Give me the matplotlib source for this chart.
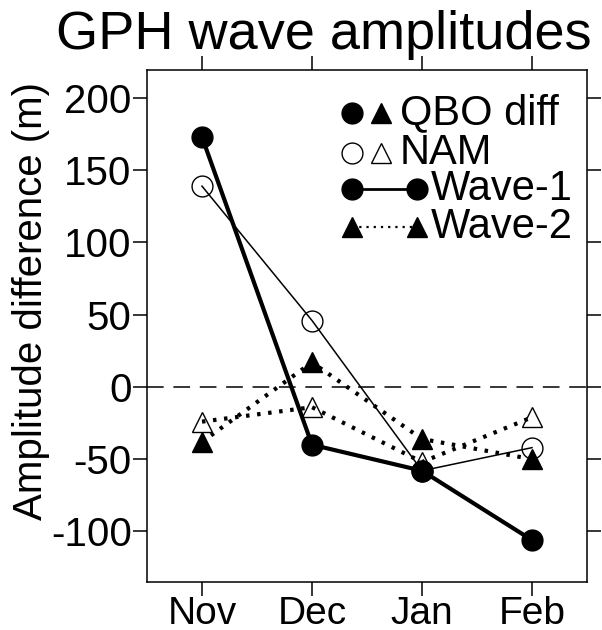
import matplotlib
matplotlib.use("Agg")
import matplotlib.pyplot as plt

plt.rcParams['font.family'] = ['Liberation Sans', 'DejaVu Sans']
plt.rcParams['lines.scale_dashes'] = False

months = ["Nov", "Dec", "Jan", "Feb"]
x = [1, 2, 3, 4]
qbo_wave1 = [173, -40, -58, -106]
nam_wave1 = [139, 46, -58, -42]
qbo_wave2 = [-38, 17, -36, -50]
nam_wave2 = [-24, -14, -52, -21]
yticks = [-100, -50, 0, 50, 100, 150, 200]

fig = plt.figure(figsize=(6.02, 6.30), dpi=100)
ax = fig.add_axes([147/602, 1-582/630, 440/602, 512/630])

ax.axhline(0, color='black', lw=1.1, dashes=(12, 7), zorder=1)

ms = 15
ax.plot(x, nam_wave1, color='black', lw=1.1, marker='o', ms=ms, mfc='none', mec='black', mew=1.0, zorder=2)
ax.plot(x, nam_wave2, color='black', lw=3, dashes=(2.5, 5.5), dash_capstyle='butt', marker='^', ms=ms, mfc='none', mec='black', mew=1.0, zorder=2)
ax.plot(x, qbo_wave2, color='black', lw=3, dashes=(2.5, 5.5), dash_capstyle='butt', marker='^', ms=ms, mfc='black', mec='black', zorder=3)
ax.plot(x, qbo_wave1, color='black', lw=3, marker='o', ms=ms, mfc='black', mec='black', zorder=4)

ax.set_xlim(0.5, 4.5)
ax.set_ylim(-135, 219.4)
ax.set_xticks(x)
ax.set_xticklabels(months)
ax.set_yticks(yticks)
ax.set_yticklabels([str(v) for v in yticks])
ax.tick_params(axis='both', direction='out', length=10, width=1.1, labelsize=29, pad=1,
               top=True, right=True, labeltop=False, labelright=False)
ax.tick_params(axis='x', pad=0, labelsize=28)
for s in ax.spines.values():
    s.set_linewidth(1.1)

# legend drawn manually (axes coordinates)
def ax_xy(px, py):
    return ((px-147)/440, (582-py)/512)

rows_y = [113, 153, 189, 227]
fs = 30
# row 1: QBO diff
for (px, mk) in [(352, 'o'), (381, '^')]:
    xx, yy = ax_xy(px, rows_y[0])
    ax.plot([xx], [yy], marker=mk, ms=ms, color='black', transform=ax.transAxes, clip_on=False)
xx, yy = ax_xy(400, rows_y[0])
ax.text(xx, yy, "QBO diff", transform=ax.transAxes, fontsize=fs, va='center', ha='left')
# row 2: NAM
for (px, mk) in [(352, 'o'), (381, '^')]:
    xx, yy = ax_xy(px, rows_y[1])
    ax.plot([xx], [yy], marker=mk, ms=ms, mfc='none', mec='black', mew=1.0, transform=ax.transAxes, clip_on=False)
xx, yy = ax_xy(400, rows_y[1])
ax.text(xx, yy, "NAM", transform=ax.transAxes, fontsize=fs, va='center', ha='left')
# row 3: Wave-1
x1, yy = ax_xy(352, rows_y[2])
x2, _ = ax_xy(417, rows_y[2])
ax.plot([x1, x2], [yy, yy], color='black', lw=2, marker='o', ms=ms, transform=ax.transAxes, clip_on=False)
xx, _ = ax_xy(431, rows_y[2])
ax.text(xx, yy, "Wave-1", transform=ax.transAxes, fontsize=fs, va='center', ha='left')
# row 4: Wave-2
x1, yy = ax_xy(352, rows_y[3])
x2, _ = ax_xy(417, rows_y[3])
ax.plot([x1, x2], [yy, yy], color='black', lw=1.6, dashes=(1.6, 3.6), dash_capstyle='butt',
        marker='^', ms=ms, transform=ax.transAxes, clip_on=False)
xx, _ = ax_xy(431, rows_y[3])
ax.text(xx, yy, "Wave-2", transform=ax.transAxes, fontsize=fs, va='center', ha='left')

fig.text(324/602, 1-35/630, "GPH wave amplitudes", fontsize=39, ha='center', va='center')
fig.text(31/602, 1-301/630, "Amplitude difference (m)", fontsize=29, rotation=90, ha='center', va='center')

fig.savefig("out.png", dpi=100)
